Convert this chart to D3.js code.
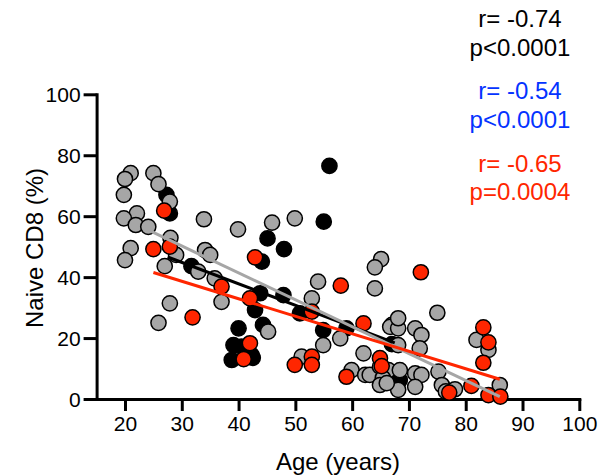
<!DOCTYPE html>
<html lang="en">
	<head>
		<meta charset="utf-8">
		<title>Naive CD8 vs Age</title>
		<script type="text/javascript" src="https://cdn.jsdelivr.net/npm/d3@7"></script>
		<style type="text/css">
			body{
				margin: 0;
				background: white;
			}
			.tickText{
				font-family: "Liberation Sans", Arial, sans-serif;
				font-size: 21px;
			}
			.axisTitle{
				font-family: "Liberation Sans", Arial, sans-serif;
				font-size: 24px;
			}
			.stat{
				font-family: "Liberation Sans", Arial, sans-serif;
				font-size: 24px;
			}
		</style>
	</head>
	<body>
		<div class="chart"></div>
		<script type="text/javascript">

			// [age, naive CD8 %]
			var blackPts = [
				[27.3,67.0],[27.9,60.9],[31.7,43.6],[44.1,45.1],[40.0,23.2],[39.1,17.7],
				[40.5,17.2],[38.8,12.8],[42.5,13.5],[42.3,14.4],[42.9,29.2],[44.3,24.3],
				[56.0,76.5],[55.0,58.2],[45.1,52.7],[48.0,49.2],[43.8,34.7],[47.9,34.1],
				[50.8,28.1],[54.9,22.6],[59.0,23.2],[68.4,6.2],[67.0,18.0]
			];

			var grayPts = [
				[21.0,74.1],[20.0,72.2],[25.0,74.1],[25.9,70.5],[19.8,67.0],[22.1,60.9],
				[19.8,59.3],[21.9,57.1],[24.1,56.5],[27.9,64.8],[33.9,59.0],[39.9,55.7],
				[21.0,49.5],[20.0,45.6],[28.0,52.9],[29.0,47.3],[27.0,43.6],[34.1,48.9],
				[35.0,47.3],[32.9,41.8],[35.8,39.6],[27.9,31.4],[25.9,25.0],[37.0,31.9],
				[45.9,57.9],[49.9,59.3],[65.1,45.9],[64.0,43.2],[54.0,38.5],[64.0,36.3],
				[52.9,33.0],[45.2,22.1],[54.9,17.7],[57.9,19.9],[51.1,13.9],[62.0,15.0],
				[59.9,9.5],[62.3,7.9],[63.1,7.9],[64.9,10.6],[66.4,9.5],[65.4,6.9],
				[64.9,4.6],[67.0,24.3],[66.7,23.7],[68.1,23.2],[68.1,26.5],[71.1,23.2],
				[72.2,21.0],[68.1,17.7],[71.9,16.6],[75.0,28.3],[81.9,19.4],[84.0,16.1],
				[68.4,9.5],[68.1,3.0],[66.1,5.2],[71.1,8.4],[72.2,7.9],[71.1,4.0],
				[75.2,9.0],[75.8,4.6],[76.5,2.5],[78.1,3.2],[86.0,4.6]
			];

			var redPts = [
				[26.9,61.8],[25.0,49.2],[27.9,50.0],[42.9,46.5],[37.0,36.9],[31.9,26.8],
				[42.0,33.0],[42.0,18.3],[40.9,13.1],[58.0,37.2],[52.9,28.7],[62.0,24.8],
				[49.9,11.2],[52.9,13.9],[52.9,11.2],[59.0,7.3],[64.9,13.4],[65.2,10.8],
				[72.1,41.6],[83.1,23.5],[84.0,18.6],[83.1,11.9],[77.1,2.1],[81.0,4.3],
				[84.0,1.3],[86.1,0.8]
			];

			// regression lines, start and end
			var grayFit = [[24.7,54.9],[86.0,0.8]];
			var blackFit = [[27.5,46.6],[67.5,18.4]];
			var redFit = [[25.0,41.5],[86.0,6.5]];

			var xTicks = [20,30,40,50,60,70,80,90,100];
			var yTicks = [0,20,40,60,80,100];

			var stats = [
				{text: "r= -0.74", color: "#000000"},
				{text: "p<0.0001", color: "#000000"},
				{text: "r= -0.54", color: "#0433ff"},
				{text: "p<0.0001", color: "#0433ff"},
				{text: "r= -0.65", color: "#ff2600"},
				{text: "p=0.0004", color: "#ff2600"}
			];

			var w = 599;
			var h = 475;

			var gray = "#a6a6a6";
			var red = "#ff2600";

			var svg = d3.select("div.chart")
						.append("svg")
						.attr("width", w)
						.attr("height", h);

			var xScale = d3.scaleLinear()
						.domain([15, 100])
						.range([96.6, 579.3]);

			var yScale = d3.scaleLinear()
						.domain([0, 100])
						.range([399, 94.3]);

			var xAxis = d3.axisBottom(xScale)
						.tickValues(xTicks)
						.tickSize(12)
						.tickSizeOuter(0)
						.tickPadding(5);

			var yAxis = d3.axisLeft(yScale)
						.tickValues(yTicks)
						.tickSize(13)
						.tickSizeOuter(0)
						.tickPadding(3);

			var gx = svg.append("g")
				.attr("transform", "translate(0," + yScale(0) + ")")
				.call(xAxis);

			var gy = svg.append("g")
				.attr("transform", "translate(" + xScale(15) + ",0)")
				.call(yAxis);

			[gx, gy].forEach(function(g){
				g.select(".domain")
					.attr("stroke", "black")
					.attr("stroke-width", 3)
					.attr("stroke-linecap", "square");
				g.selectAll(".tick line")
					.attr("stroke", "black")
					.attr("stroke-width", 3);
				g.selectAll(".tick text")
					.attr("class", "tickText")
					.attr("fill", "black")
					.style("font-size", null)
					.style("font-family", null);
				g.attr("font-size", null).attr("font-family", null);
			});

			gy.selectAll(".tick text").attr("dy", "0.36em");

			function drawPts(data, fill){
				svg.append("g")
					.selectAll("circle")
					.data(data)
					.enter()
					.append("circle")
					.attr("cx", (d) => xScale(d[0]))
					.attr("cy", (d) => yScale(d[1]))
					.attr("r", 7.6)
					.attr("fill", fill)
					.attr("stroke", "black")
					.attr("stroke-width", 1.5);
			}

			drawPts(blackPts, "black");
			drawPts(grayPts, gray);
			drawPts(redPts, red);

			var line = d3.line()
						.x((d) => xScale(d[0]))
						.y((d) => yScale(d[1]));

			svg.append("path").datum(blackFit)
				.attr("d", line).attr("stroke", "black").attr("stroke-width", 3).attr("fill", "none");
			svg.append("path").datum(grayFit)
				.attr("d", line).attr("stroke", gray).attr("stroke-width", 3).attr("fill", "none");
			svg.append("path").datum(redFit)
				.attr("d", line).attr("stroke", red).attr("stroke-width", 3).attr("fill", "none");

			// axis titles
			svg.append("text")
				.attr("class", "axisTitle")
				.attr("x", 338)
				.attr("y", 470)
				.attr("text-anchor", "middle")
				.text("Age (years)");

			svg.append("text")
				.attr("class", "axisTitle")
				.attr("transform", "translate(43,248) rotate(-90)")
				.attr("text-anchor", "middle")
				.text("Naive CD8 (%)");

			var statY = [27, 56, 99, 128, 171.5, 200];

			svg.selectAll("text.stat")
				.data(stats)
				.enter()
				.append("text")
				.attr("class", "stat")
				.attr("x", 520)
				.attr("y", (d, i) => statY[i])
				.attr("text-anchor", "middle")
				.attr("fill", (d) => d.color)
				.text((d) => d.text);

		</script>
	</body>
</html>
